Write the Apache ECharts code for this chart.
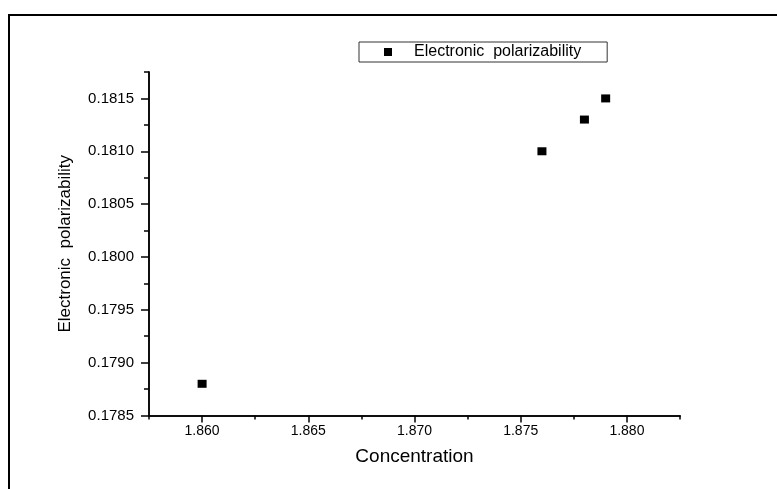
<!DOCTYPE html>
<html><head><meta charset="utf-8">
<script src="https://cdn.jsdelivr.net/npm/echarts@6/dist/echarts.min.js"></script>
<style>html,body{margin:0;padding:0;background:#fff}#c{width:777px;height:489px}</style>
</head><body><div id="c"></div>
<script>
const seriesName = 'Electronic  polarizability';
const concentration = [1.860, 1.876, 1.878, 1.879];
const polarizability = [0.1788, 0.1810, 0.1813, 0.1815];
const xMajorTicks = [1.860, 1.865, 1.870, 1.875, 1.880];
const xMinorTicks = [1.8575, 1.8625, 1.8675, 1.8725, 1.8775, 1.8825];
const yMajorTicks = [0.1785, 0.1790, 0.1795, 0.1800, 0.1805, 0.1810, 0.1815];
const yMinorTicks = [0.17875, 0.17925, 0.17975, 0.18025, 0.18075, 0.18125, 0.18175];

const chart = echarts.init(document.getElementById('c'), null, {renderer: 'canvas'});
const font = 'Liberation Sans, Arial, sans-serif';
const axLine = {show: true, onZero: false, lineStyle: {color: '#000', width: 1.5}};
const xBase = {type: 'value', position: 'bottom', min: 1.8575, max: 1.8825, splitLine: {show: false}, axisLine: axLine};
const yBase = {type: 'value', position: 'left', min: 0.1785, max: 0.18175, splitLine: {show: false}, axisLine: axLine};
chart.setOption({
  animation: false,
  backgroundColor: '#fff',
  grid: {left: 149, top: 72, right: 97, bottom: 73.5, containLabel: false},
  graphic: [{type: 'rect', shape: {x: 9, y: 15, width: 800, height: 500}, style: {fill: 'none', stroke: '#000', lineWidth: 2}, silent: true}],
  legend: {
    show: true, left: 359, top: 42,
    padding: [2, 26, 2, 25], itemGap: 0, itemWidth: 8, itemHeight: 8,
    borderColor: '#333', borderWidth: 1,
    textStyle: {fontFamily: font, fontSize: 16, color: '#000', padding: [0, 0, 0, 17]},
    data: [{name: seriesName, icon: 'rect'}]
  },
  xAxis: [
    Object.assign({}, xBase, {
      name: 'Concentration', nameLocation: 'middle', nameGap: 32,
      nameTextStyle: {fontFamily: font, fontSize: 19, color: '#000'},
      axisTick: {show: true, length: 7, customValues: xMajorTicks, lineStyle: {color: '#000', width: 1.5}},
      axisLabel: {customValues: xMajorTicks, fontFamily: font, fontSize: 14, color: '#000', margin: 9,
        formatter: v => v.toFixed(3)}
    }),
    Object.assign({}, xBase, {
      axisTick: {show: true, length: 4, customValues: xMinorTicks, lineStyle: {color: '#000', width: 1.5}},
      axisLabel: {show: false}
    })
  ],
  yAxis: [
    Object.assign({}, yBase, {
      name: seriesName, nameLocation: 'middle', nameGap: 75,
      nameTextStyle: {fontFamily: font, fontSize: 17, color: '#000'},
      axisTick: {show: true, length: 8, customValues: yMajorTicks, lineStyle: {color: '#000', width: 1.5}},
      axisLabel: {customValues: yMajorTicks, fontFamily: font, fontSize: 15, color: '#000', margin: 15,
        formatter: v => v.toFixed(4)}
    }),
    Object.assign({}, yBase, {
      axisTick: {show: true, length: 5, customValues: yMinorTicks, lineStyle: {color: '#000', width: 1.5}},
      axisLabel: {show: false}
    })
  ],
  series: [{
    name: seriesName, type: 'scatter', symbol: 'rect', symbolSize: [9, 8],
    itemStyle: {color: '#000', opacity: 1},
    data: concentration.map((c, i) => [c, polarizability[i]])
  }]
});
</script></body></html>
